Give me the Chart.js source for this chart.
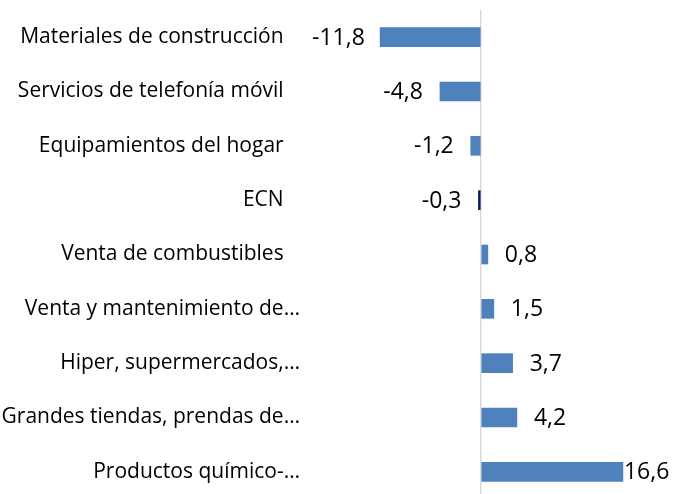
<!DOCTYPE html>
<html>
<head>
<meta charset="utf-8">
<script src="https://cdn.jsdelivr.net/npm/chart.js@4"></script>
<style>
  html, body { margin: 0; padding: 0; background: #fff; overflow: hidden; }
  #wrap { width: 674px; height: 499px; position: relative; }
</style>
</head>
<body>
<div id="wrap"><canvas id="myChart"></canvas></div>
<script>
var categories = [
  'Materiales de construcción',
  'Servicios de telefonía móvil',
  'Equipamientos del hogar',
  'ECN',
  'Venta de combustibles',
  'Venta y mantenimiento de…',
  'Hiper, supermercados,…',
  'Grandes tiendas, prendas de…',
  'Productos químico-…'
];
var values = [-11.8, -4.8, -1.2, -0.3, 0.8, 1.5, 3.7, 4.2, 16.6];
var barColors = ['#4f81bd', '#4f81bd', '#4f81bd', '#002060', '#4f81bd', '#4f81bd', '#4f81bd', '#4f81bd', '#4f81bd'];

// labels next to each bar, decimal comma
var valueLabels = {
  id: 'valueLabels',
  afterDatasetsDraw: function(chart) {
    var ctx = chart.ctx;
    var meta = chart.getDatasetMeta(0);
    var area = chart.chartArea;
    ctx.save();
    ctx.font = '23px "Open Sans"';
    ctx.fillStyle = '#000';
    ctx.textBaseline = 'middle';
    ctx.textAlign = 'left';
    meta.data.forEach(function(bar, i) {
      var txt = values[i].toFixed(1).replace('.', ',');
      var w = ctx.measureText(txt).width;
      var x;
      if (values[i] < 0) {
        x = bar.x - 17 - w;
        if (x < area.left + 2) x = area.left + 2;
      } else {
        x = bar.x + 17;
        if (x + w > 670) x = bar.x + 1;
      }
      ctx.fillText(txt, x, bar.y + 1);
    });
    ctx.restore();
  }
};

let myChart = document.getElementById('myChart').getContext('2d');
new Chart(myChart, {
  type: 'bar',
  data: {
    labels: categories,
    datasets: [{
      data: values,
      backgroundColor: barColors,
      barThickness: 19
    }]
  },
  options: {
    indexAxis: 'y',
    responsive: true,
    maintainAspectRatio: false,
    animation: false,
    layout: { padding: { top: 10, bottom: 0, left: 0, right: 22 } },
    plugins: { legend: { display: false }, tooltip: { enabled: false } },
    scales: {
      x: {
        min: -20,
        max: 20,
        ticks: { display: false, stepSize: 5 },
        border: { display: false },
        grid: {
          drawTicks: false,
          lineWidth: 1.5,
          color: function(c) { return c.tick && c.tick.value === 0 ? '#d9d9d9' : 'rgba(0,0,0,0)'; }
        }
      },
      y: {
        afterFit: function(scale) {
          scale.width = 310;
          scale.paddingTop = 0;
          scale.paddingBottom = 0;
        },
        border: { display: false },
        grid: { display: false, drawTicks: false },
        ticks: {
          padding: 10,
          color: '#000',
          font: { family: 'Open Sans', size: 21 },
          autoSkip: false,
          // truncated labels sit a bit further right than the full ones
          callback: function(v, i) {
            var s = categories[i];
            return s.slice(-1) === '…' ? s : s + '   ';
          }
        }
      }
    }
  },
  plugins: [valueLabels]
});
</script>
</body>
</html>
